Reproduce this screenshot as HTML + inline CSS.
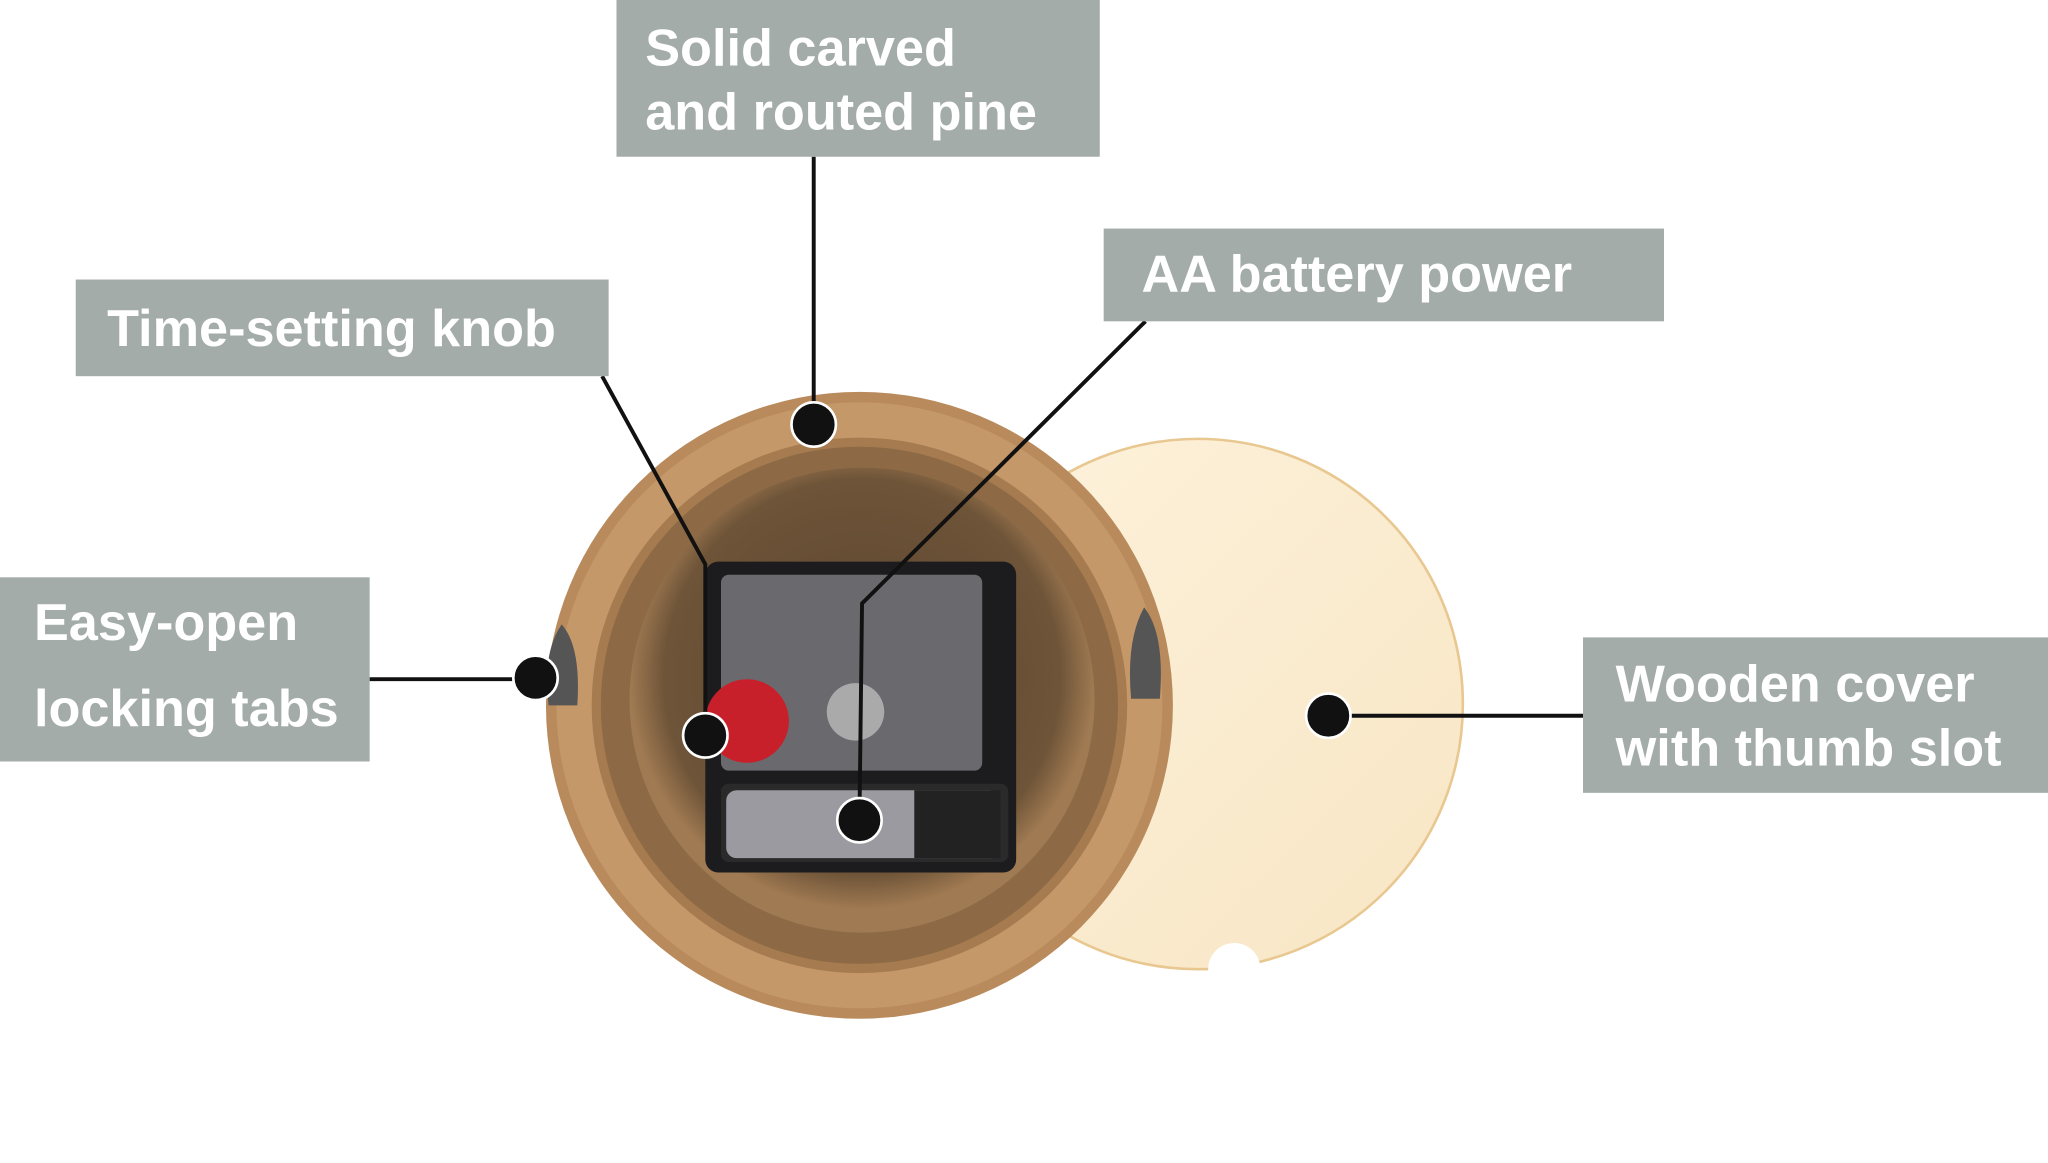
<!DOCTYPE html>
<html><head><meta charset="utf-8"><style>
html,body{margin:0;padding:0;background:#fff;}
svg{display:block}
text{font-family:"Liberation Sans",sans-serif;fill:#fff;font-size:40px;font-weight:bold;}
</style></head><body>
<svg width="2048" height="1163" viewBox="0 0 1568 890.4" xmlns="http://www.w3.org/2000/svg">
<defs>
<radialGradient id="cav" cx="50%" cy="45%" r="50%">
<stop offset="0" stop-color="#5a4430"/><stop offset="0.85" stop-color="#6e5438"/><stop offset="1" stop-color="#a07a52"/>
</radialGradient>
<linearGradient id="cover" x1="0" y1="0" x2="1" y2="1">
<stop offset="0" stop-color="#fdf2dc"/><stop offset="1" stop-color="#f8e6c4"/>
</linearGradient>
</defs>
<!-- cover disk -->
<circle cx="917" cy="539" r="203" fill="url(#cover)" stroke="#e8c890" stroke-width="2"/>
<circle cx="945" cy="742" r="20" fill="#fff"/>
<!-- wood ring -->
<circle cx="658" cy="540" r="240" fill="#b98a5c"/>
<circle cx="658" cy="540" r="232" fill="#c49868"/>
<circle cx="658" cy="540" r="205" fill="#a67b50"/>
<circle cx="658" cy="540" r="198" fill="#8d6a45"/>
<circle cx="660" cy="536" r="178" fill="url(#cav)"/>
<!-- tabs -->
<path d="M430 478 Q445 495 442 540 L420 540 Q415 500 430 478Z" fill="#555"/>
<path d="M876 465 Q892 485 888 535 L866 535 Q862 490 876 465Z" fill="#555"/>
<!-- movement -->
<rect x="540" y="430" width="238" height="238" rx="10" fill="#1c1c1e"/>
<rect x="552" y="440" width="200" height="150" rx="6" fill="#6a6a6e"/>
<circle cx="655" cy="545" r="22" fill="#aaa"/>
<rect x="552" y="600" width="220" height="60" rx="6" fill="#2a2a2a"/>
<rect x="556" y="605" width="210" height="52" rx="8" fill="#9a9aa0"/>
<rect x="700" y="605" width="66" height="52" fill="#222"/>
<circle cx="572" cy="552" r="32" fill="#c8202a"/>
<!-- connectors -->
<g stroke="#111" stroke-width="3" fill="none">
<line x1="623" y1="120" x2="623" y2="325"/>
<polyline points="461,288 540,432 540,563"/>
<polyline points="877,246 660,462 658,628"/>
<line x1="283" y1="520" x2="410" y2="520"/>
<line x1="1017" y1="548" x2="1212" y2="548"/>
</g>
<g fill="#111" stroke="#fff" stroke-width="2">
<circle cx="623" cy="325" r="17"/>
<circle cx="540" cy="563" r="17"/>
<circle cx="658" cy="628" r="17"/>
<circle cx="410" cy="519" r="17"/>
<circle cx="1017" cy="548" r="17"/>
</g>
<!-- labels -->
<g fill="#a3aca8">
<rect x="472" y="0" width="370" height="120"/>
<rect x="58" y="214" width="408" height="74"/>
<rect x="845" y="175" width="429" height="71"/>
<rect x="0" y="442" width="283" height="141"/>
<rect x="1212" y="488" width="356" height="119"/>
</g>
<text x="494" y="50">Solid carved</text>
<text x="494" y="99">and routed pine</text>
<text x="82" y="265">Time-setting knob</text>
<text x="874" y="223">AA battery power</text>
<text x="26" y="490">Easy-open</text>
<text x="26" y="556">locking tabs</text>
<text x="1237" y="537">Wooden cover</text>
<text x="1237" y="586">with thumb slot</text>
</svg>
</body></html>
